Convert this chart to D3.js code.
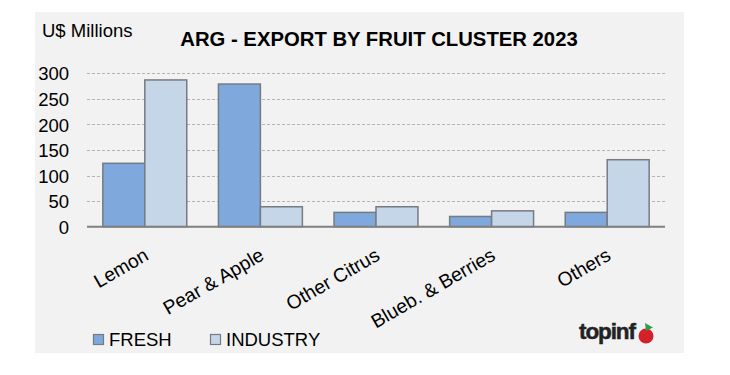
<!DOCTYPE html>
<html><head><meta charset="utf-8">
<script src="https://cdn.jsdelivr.net/npm/d3@7"></script>
<style>html,body{margin:0;padding:0;background:#fff;}svg{display:block;}</style>
</head><body>
<script>
const categories = ["Lemon", "Pear & Apple", "Other Citrus", "Blueb. & Berries", "Others"];
const fresh = [124, 279, 28, 20, 28];
const industry = [287, 39, 39, 31, 131];
const seriesNames = ["FRESH", "INDUSTRY"];
const yTicks = [0, 50, 100, 150, 200, 250, 300];
const titleText = "ARG - EXPORT BY FRUIT CLUSTER 2023";
const unitText = "U$ Millions";

const W = 730, H = 375;
const svg = d3.select("body").append("svg").attr("width", W).attr("height", H);
const font = "Liberation Sans, Arial, sans-serif";

svg.append("rect").attr("x", 35).attr("y", 12).attr("width", 649).attr("height", 341).attr("fill", "#f2f2f2");

const x = d3.scaleBand().domain(categories).range([87, 665]).padding(0);
const y = d3.scaleLinear().domain([0, 300]).range([226.7, 73.3]);
const barW = x.bandwidth() * 0.363;
const colors = ["#7fa8dc", "#c6d6e9"];

// gridlines
svg.append("g").selectAll("line").data(yTicks.filter(t => t > 0)).join("line")
  .attr("x1", 87).attr("x2", 665)
  .attr("y1", d => Math.round(y(d)) + 0.5).attr("y2", d => Math.round(y(d)) + 0.5)
  .attr("stroke", "#b4b4b4").attr("stroke-width", 1).attr("stroke-dasharray", "3,2");

// y axis labels via d3 axis
const yAxis = svg.append("g").attr("transform", "translate(69,0)")
  .call(d3.axisLeft(y).tickValues(yTicks).tickSize(0).tickPadding(0));
yAxis.select(".domain").remove();
yAxis.selectAll("text").attr("font-family", font).attr("font-size", 18.5).attr("fill", "#000")
  .attr("dy", "0.36em");

// bars
const data = categories.map((c, i) => ({c, vals: [fresh[i], industry[i]]}));
const g = svg.append("g");
data.forEach(d => {
  const cx = x(d.c) + x.bandwidth() / 2;
  d.vals.forEach((v, j) => {
    g.append("rect")
      .attr("x", cx - barW + j * barW).attr("y", y(v))
      .attr("width", barW).attr("height", y(0) - y(v))
      .attr("fill", colors[j]).attr("stroke", "#767b82").attr("stroke-width", 1.5);
  });
});

// x axis line
svg.append("line").attr("x1", 87).attr("x2", 665).attr("y1", y(0)).attr("y2", y(0))
  .attr("stroke", "#808080").attr("stroke-width", 2);

// category labels
svg.append("g").selectAll("text").data(categories).join("text")
  .attr("transform", d => `translate(${x(d) + x.bandwidth() / 2 + 5},259) rotate(-30)`)
  .attr("text-anchor", "end").attr("font-family", font).attr("font-size", 19.3).attr("fill", "#000")
  .text(d => d);

// titles
svg.append("text").attr("x", 42).attr("y", 37).attr("font-family", font).attr("font-size", 18.5)
  .attr("fill", "#000").text(unitText);
svg.append("text").attr("x", 379).attr("y", 46).attr("text-anchor", "middle").attr("font-family", font)
  .attr("font-size", 20.3).attr("font-weight", "bold").attr("fill", "#000").text(titleText);

// legend
const legX = [93, 210];
seriesNames.forEach((s, i) => {
  svg.append("rect").attr("x", legX[i] + 0.5).attr("y", 334.5).attr("width", 10).attr("height", 10)
    .attr("fill", colors[i]).attr("stroke", "#767b82").attr("stroke-width", 1.2);
  svg.append("text").attr("x", legX[i] + 16).attr("y", 346).attr("font-family", font).attr("font-size", 18.5)
    .attr("fill", "#000").text(s);
});

// logo
svg.append("text").attr("x", 579).attr("y", 339).attr("font-family", font).attr("font-size", 22.5)
  .attr("font-weight", "bold").attr("fill", "#222").attr("letter-spacing", -1.1)
  .attr("stroke", "#222").attr("stroke-width", 0.5).text("topinf");
svg.append("circle").attr("cx", 646).attr("cy", 336).attr("r", 7.5).attr("fill", "#d4202a");
svg.append("path").attr("d", "M645,323 L653,327.5 L646,331 Z").attr("fill", "#2ea043");
</script>
</body></html>
